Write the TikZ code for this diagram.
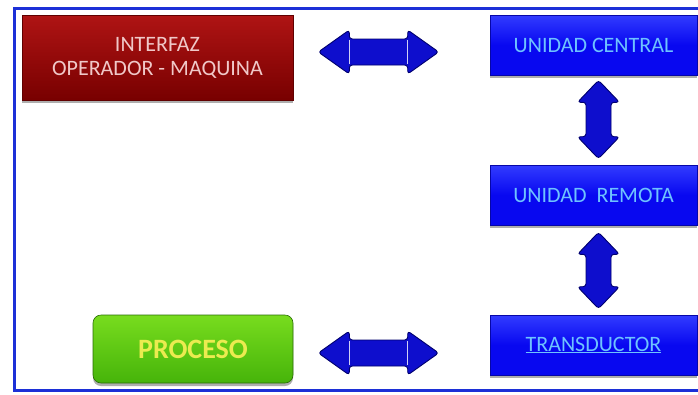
\documentclass[tikz,border=0pt]{standalone}
\usepackage{fontspec}
\setmainfont{Carlito}
\usetikzlibrary{calc,shadows}

\definecolor{framebl}{RGB}{28,48,215}
\definecolor{boxbl}{RGB}{8,8,240}
\definecolor{boxbltop}{RGB}{50,60,255}
\definecolor{boxtxt}{RGB}{110,195,255}
\definecolor{redtop}{RGB}{175,20,20}
\definecolor{redmid}{RGB}{195,25,25}
\definecolor{redbot}{RGB}{120,0,0}
\definecolor{redtxt}{RGB}{240,200,200}
\definecolor{grntop}{RGB}{120,220,30}
\definecolor{grnbot}{RGB}{70,180,10}
\definecolor{grntxt}{RGB}{235,235,80}
\definecolor{arrfill}{RGB}{14,14,205}
\definecolor{arredge}{RGB}{0,0,110}

\tikzset{
  boxbase/.style={rectangle, inner sep=0pt, align=center,
    drop shadow={shadow xshift=0pt, shadow yshift=-3pt, opacity=0.45, fill=black!70}},
  bluebox/.style={boxbase, minimum width=207pt, minimum height=60pt,
    top color=boxbltop, bottom color=boxbl, middle color=boxbl,
    draw=boxbl!70!black, line width=0.6pt, text=boxtxt, font=\fontsize{22}{26}\selectfont},
  redbox/.style={boxbase, minimum width=271pt, minimum height=85pt,
    top color=redtop, middle color=redmid, bottom color=redbot,
    draw=redbot!80!black, line width=0.6pt, text=redtxt, font=\fontsize{22}{24}\selectfont},
  greenbox/.style={boxbase, minimum width=200pt, minimum height=68pt, rounded corners=8pt,
    top color=grntop, bottom color=grnbot,
    draw=grnbot!60!black, line width=0.6pt, text=grntxt, font=\bfseries\fontsize{28}{30}\selectfont},
  blockarrow/.style={fill=arrfill, draw=arredge, line width=0.9pt, rounded corners=3pt, line join=round},
  seam/.style={draw=white!80!arrfill, line width=0.7pt}
}

% Horizontal double-headed block arrow between two tip coordinates
\newcommand\harrow[2]{%
  \path[blockarrow] let \p1=(#1), \p2=(#2) in
    (\x1,\y1) -- (\x1+31pt,\y1+22pt) -- (\x1+31pt,\y1+13pt)
    -- (\x2-31pt,\y2+13pt) -- (\x2-31pt,\y2+22pt) -- (\x2,\y2)
    -- (\x2-31pt,\y2-22pt) -- (\x2-31pt,\y2-13pt)
    -- (\x1+31pt,\y1-13pt) -- (\x1+31pt,\y1-22pt) -- cycle;
  \path[seam] let \p1=(#1), \p2=(#2) in
    (\x1+31pt,\y1+12pt) -- (\x1+31pt,\y1-12pt)
    (\x2-31pt,\y2+12pt) -- (\x2-31pt,\y2-12pt);
}
% Vertical double-headed block arrow between two tip coordinates
\newcommand\varrow[2]{%
  \path[blockarrow] let \p1=(#1), \p2=(#2) in
    (\x1,\y1) -- (\x1+21pt,\y1-22pt) -- (\x1+12.5pt,\y1-22pt)
    -- (\x2+12.5pt,\y2+22pt) -- (\x2+21pt,\y2+22pt) -- (\x2,\y2)
    -- (\x2-21pt,\y2+22pt) -- (\x2-12.5pt,\y2+22pt)
    -- (\x1-12.5pt,\y1-22pt) -- (\x1-21pt,\y1-22pt) -- cycle;
}

\begin{document}
\begin{tikzpicture}[x=1pt, y=-1pt]
  \useasboundingbox[fill=white] (0,0) rectangle (698,394);

  % outer frame (its right side lies beyond the page edge)
  \draw[framebl, line width=3pt] (720,8.5) -- (14.5,8.5) -- (14.5,390) -- (720,390);

  % blocks
  \node[redbox]   (iface)   at (157.5,57.5) {INTERFAZ\\OPERADOR - MAQUINA};
  \node[bluebox]  (central) at (593.5,45)   {UNIDAD CENTRAL};
  \node[bluebox]  (remota)  at (593.5,195)  {UNIDAD\ \ REMOTA};
  \node[bluebox]  (trans)   at (593.5,345)  {\underline{TRANSDUCTOR}};
  \node[greenbox] (proc)    at (193,349)    {PROCESO};

  % arrow end points, offset from the blocks they join
  \coordinate (h1a) at ($(iface.east)+(25,-5.5)$);
  \coordinate (h1b) at ($(central.west)+(-51,7)$);
  \coordinate (h2a) at ($(proc.east)+(25,4)$);
  \coordinate (h2b) at ($(trans.west)+(-51,8)$);
  \coordinate (v1a) at ($(central.south)+(5,5)$);
  \coordinate (v1b) at ($(remota.north)+(5,-6)$);
  \coordinate (v2a) at ($(remota.south)+(5,7)$);
  \coordinate (v2b) at ($(trans.north)+(5,-6)$);

  \harrow{h1a}{h1b}
  \harrow{h2a}{h2b}
  \varrow{v1a}{v1b}
  \varrow{v2a}{v2b}
\end{tikzpicture}
\end{document}
